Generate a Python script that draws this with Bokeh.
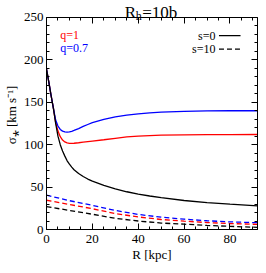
from bokeh.plotting import figure
from bokeh.models import Range1d, LinearAxis, Label, SingleIntervalTicker
from bokeh.embed import file_html
from bokeh.resources import INLINE

# ---- data ----
R_solid = [0, 1, 2, 3, 4, 5, 6, 7, 8, 9, 10, 11, 12, 14, 16, 18, 20, 25, 30, 35, 40, 45, 50, 60, 70, 80, 92]
sigma_q1_s0 = [189, 174, 158, 143, 126, 116, 109.5, 105.5, 103.3, 102.1, 101.6, 101.5, 101.7, 102.3, 103,
               103.7, 104.3, 105.8, 107.5, 109.2, 110.2, 110.8, 111.2, 111.6, 111.8, 111.9, 112]
sigma_q07_s0 = [189, 174, 158, 143, 129, 122, 118, 116, 115.2, 114.8, 115, 115.8, 116.8, 119, 121.5,
                123.8, 126, 129.8, 132.8, 134.8, 136.3, 137.5, 138.3, 139.3, 139.8, 140, 140]
sigma_ref_s0 = [189, 174, 158, 143, 125, 110, 100, 92.5, 86.5, 81, 77, 73.5, 70.5, 66, 62.5,
                59.5, 57, 52, 48, 44.5, 41.8, 39.5, 37.5, 34.2, 31.8, 29.8, 27.8]

R_dash = [0, 10, 20, 30, 40, 50, 60, 70, 80, 92]
sigma_q07_s10 = [40.5, 34, 28.5, 22.5, 17.8, 14.5, 12.2, 10.3, 9, 8]
sigma_q1_s10 = [34.5, 29.5, 24.5, 18.8, 14.8, 11.8, 9.8, 8.2, 7, 6]
sigma_ref_s10 = [27, 22.5, 18, 13.2, 10, 7.6, 6.3, 4.8, 3.7, 2.6]

x_ticks_interval = 20
y_ticks_interval = 50
x_limits = (0, 92)
y_limits = (0, 250)

FONT = "Liberation Serif"

# the canvas above y=250 holds the title; the box is drawn by four axes
p = figure(width=258, height=265, output_backend="svg", toolbar_location=None,
           x_range=Range1d(*x_limits), y_range=Range1d(0, 270),
           min_border_left=41, min_border_right=1, min_border_top=0, min_border_bottom=36,
           x_axis_label="R [kpc]", y_axis_label="σ⁎ [km s⁻¹]")
p.grid.visible = False
p.outline_line_color = None
p.background_fill_color = "white"
p.border_fill_color = "white"


def style(ax, labels=True):
    ax.axis_line_color = "black"
    ax.axis_line_width = 1
    ax.major_tick_in = 6
    ax.major_tick_out = 0
    ax.minor_tick_in = 3
    ax.minor_tick_out = 0
    ax.major_tick_line_color = "black"
    ax.minor_tick_line_color = "black"
    ax.major_label_text_font = FONT
    ax.axis_label_text_font = FONT
    ax.axis_label_text_font_size = "13px"
    ax.axis_label_text_font_style = "normal"
    ax.axis_label_text_color = "black"
    if labels:
        ax.major_label_text_font_size = "13px"
        ax.major_label_text_color = "black"
    else:
        ax.major_label_text_color = None
        ax.major_label_standoff = 0


p.xaxis.ticker = SingleIntervalTicker(interval=x_ticks_interval, num_minor_ticks=4)
p.yaxis.ticker = SingleIntervalTicker(interval=y_ticks_interval, num_minor_ticks=5)
for ax in p.xaxis:
    style(ax)
    ax.major_label_standoff = 5
    ax.axis_label_standoff = 1
for ax in p.yaxis:
    style(ax)
    ax.bounds = y_limits
    ax.major_label_standoff = 3
    ax.axis_label_standoff = 2

top = LinearAxis(ticker=SingleIntervalTicker(interval=x_ticks_interval, num_minor_ticks=4),
                 fixed_location=y_limits[1])
style(top, labels=False)
p.add_layout(top, "above")
right = LinearAxis(ticker=SingleIntervalTicker(interval=y_ticks_interval, num_minor_ticks=5),
                   bounds=y_limits)
style(right, labels=False)
p.add_layout(right, "right")

LW = 1.3
DASH = "5 3"
p.line(R_solid, sigma_q1_s0, line_color="red", line_width=LW)
p.line(R_solid, sigma_q07_s0, line_color="blue", line_width=LW)
p.line(R_solid, sigma_ref_s0, line_color="black", line_width=LW)
p.line(R_dash, sigma_q07_s10, line_color="blue", line_width=LW, line_dash=DASH)
p.line(R_dash, sigma_q1_s10, line_color="red", line_width=LW, line_dash=DASH)
p.line(R_dash, sigma_ref_s10, line_color="black", line_width=LW, line_dash=DASH)

# ---- title R_h=10b ----
title_y = 255.3
sub_y = 251.2
for x, y, t, fs in [(34.1, title_y, "R", "17px"), (38.9, sub_y, "h", "12px"), (41.7, title_y, "=10b", "17px")]:
    p.add_layout(Label(x=x, y=y, text=t, text_font=FONT, text_font_size=fs, text_color="black",
                       text_baseline="alphabetic", text_align="left"))

# ---- legends ----
LEG_FS = "12px"
p.add_layout(Label(x=6.0, y=229, text="q=1", text_font=FONT, text_font_size=LEG_FS,
                   text_color="red", text_baseline="middle"))
p.add_layout(Label(x=6.0, y=213.6, text="q=0.7", text_font=FONT, text_font_size=LEG_FS,
                   text_color="blue", text_baseline="middle"))

leg_text_x = 73.7
leg_line_x = [75.2, 84.6]
leg_rows = [("s=0", 228.6, "solid"), ("s=10", 212.7, DASH)]
for t, y, dash in leg_rows:
    p.add_layout(Label(x=leg_text_x, y=y, text=t, text_font=FONT, text_font_size=LEG_FS,
                       text_color="black", text_baseline="middle", text_align="right"))
    p.line(leg_line_x, [y, y], line_color="black", line_width=LW, line_dash=dash)

open("out.html", "w").write(file_html(p, INLINE))
